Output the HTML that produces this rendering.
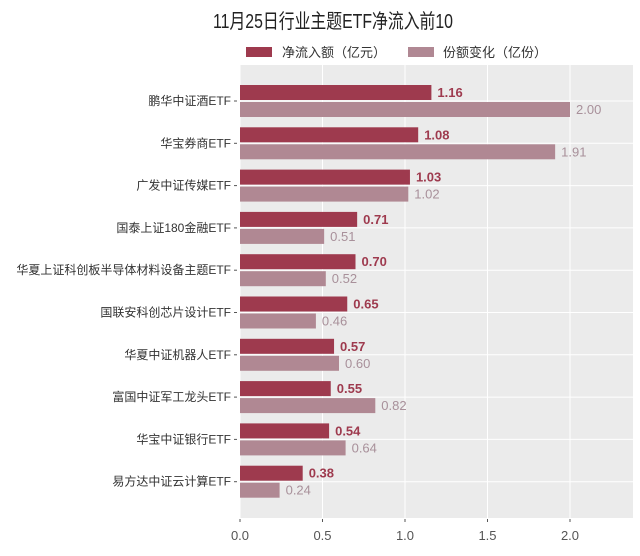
<!DOCTYPE html>
<html><head><meta charset="utf-8"><style>
body{margin:0;background:#fff;}
svg text{font-family:"Liberation Sans","Noto Sans CJK SC",sans-serif;}
</style></head><body>
<svg id="c" width="640" height="551" viewBox="0 0 640 551">
<rect x="0" y="0" width="640" height="551" fill="#fff"/>
<text x="213" y="28" font-size="20" textLength="240" lengthAdjust="spacingAndGlyphs" fill="#222">11月25日行业主题ETF净流入前10</text>
<g>
<rect x="246" y="47" width="26" height="10" fill="#9e3a4e"/>
<text x="282" y="57" font-size="13" fill="#333">净流入额（亿元）</text>
<rect x="408" y="47" width="26" height="10" fill="#b08893"/>
<text x="443" y="57" font-size="13" fill="#333">份额变化（亿份）</text>
</g>
<rect x="240" y="65" width="393" height="453" fill="#ebebeb"/>
<g id="grid"></g><g id="bars"></g><g id="axis"></g>
</svg>
<script>
const categories=["鹏华中证酒ETF","华宝券商ETF","广发中证传媒ETF","国泰上证180金融ETF","华夏上证科创板半导体材料设备主题ETF","国联安科创芯片设计ETF","华夏中证机器人ETF","富国中证军工龙头ETF","华宝中证银行ETF","易方达中证云计算ETF"];
const netInflow=[1.16,1.08,1.03,0.71,0.70,0.65,0.57,0.55,0.54,0.38];
const shareChange=[2.00,1.91,1.02,0.51,0.52,0.46,0.60,0.82,0.64,0.24];
const ticks=[0,0.5,1.0,1.5,2.0];
const tickLabels=["0.0","0.5","1.0","1.5","2.0"];
const NS="http://www.w3.org/2000/svg";
const x=v=>240+v*165;
const y=i=>101+i*42.3;
function mk(tag,attrs,parent,txt){const e=document.createElementNS(NS,tag);for(const k in attrs)e.setAttribute(k,attrs[k]);if(txt!==undefined)e.textContent=txt;parent.appendChild(e);return e;}
const grid=document.getElementById('grid'),bars=document.getElementById('bars'),axis=document.getElementById('axis');
ticks.forEach((t,k)=>{
  const g=mk('line',{x1:x(t),x2:x(t),y1:65,y2:518,stroke:'#fff','stroke-width':1},grid);
  
  
  mk('line',{x1:x(t),x2:x(t),y1:519,y2:522,stroke:'#555'},axis);
  const l=mk('text',{x:x(t),y:540,'text-anchor':'middle','font-size':13,fill:'#555'},axis,tickLabels[k]);
  
  
});
categories.forEach((c,i)=>{
  const cy=y(i);
  const g=mk('line',{x1:240,x2:633,y1:cy,y2:cy,stroke:'#fff','stroke-width':1},grid);
  
  
  mk('line',{x1:234,x2:237,y1:cy,y2:cy,stroke:'#555'},axis);
  const cl=mk('text',{x:231,y:cy+4,'text-anchor':'end','font-size':12,fill:'#333'},axis,c);
  
  
  const b1=mk('rect',{x:240,y:cy-16,width:x(netInflow[i])-240,height:15,fill:'#9e3a4e'},bars);
  
  
  const t1=mk('text',{x:x(netInflow[i])+6,y:cy-4,'font-size':13,'font-weight':'bold',fill:'#9e3a4e'},bars,netInflow[i].toFixed(2));
  
  
  const b2=mk('rect',{x:240,y:cy+1,width:x(shareChange[i])-240,height:15,fill:'#b08893'},bars);
  
  
  const t2=mk('text',{x:x(shareChange[i])+6,y:cy+13,'font-size':13,fill:'#a8909a'},bars,shareChange[i].toFixed(2));
  
  
});
</script>
</body></html>
